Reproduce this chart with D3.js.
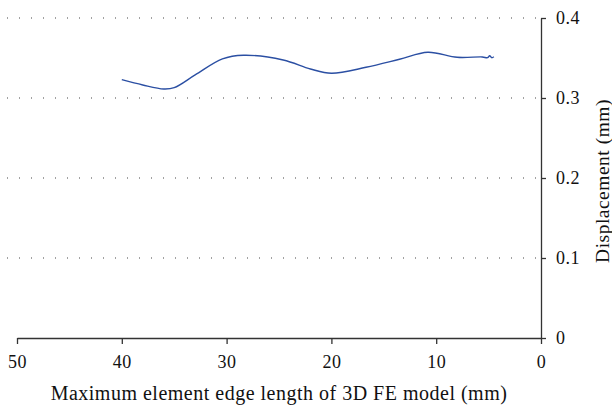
<!DOCTYPE html>
<html>
<head>
<meta charset="utf-8">
<script src="https://cdn.jsdelivr.net/npm/d3@7"></script>
<style>
  body { margin: 0; background: #fff; }
</style>
</head>
<body>
<div id="chart"></div>
<script>
// edge length (mm) and displacement (mm)
var edgeLength = [40, 38, 36, 35, 33, 30.4, 28.4, 24.6, 22, 20, 16.7, 13.5, 10.8, 8, 5.6, 5.1, 4.9, 4.7, 4.5];
var displacement = [0.3229, 0.3163, 0.3113, 0.3129, 0.3288, 0.3488, 0.3534, 0.3475, 0.3363, 0.3309, 0.3384, 0.3484, 0.3571, 0.3509, 0.3513, 0.3504, 0.3529, 0.3504, 0.3516];
var xTicks = [50, 40, 30, 20, 10, 0];
var yTicks = [0, 0.1, 0.2, 0.3, 0.4];

var W = 612, H = 406;
var plotLeft = 17, plotRight = 541, plotTop = 18, plotBottom = 338;
var serif = "Liberation Serif, DejaVu Serif, Times New Roman, serif";

var svg = d3.select("#chart")
  .append("svg")
  .attr("width", W)
  .attr("height", H)
  .attr("font-family", serif);

var x = d3.scaleLinear().domain([50, 0]).range([plotLeft, plotRight]);
var y = d3.scaleLinear().domain([0, 0.4]).range([plotBottom, plotTop]);

// dotted gridlines
svg.append("g")
  .selectAll("line")
  .data(yTicks.filter(function (d) { return d > 0; }))
  .join("line")
  .attr("x1", 7)
  .attr("x2", plotRight)
  .attr("y1", function (d) { return y(d); })
  .attr("y2", function (d) { return y(d); })
  .attr("stroke", "#444")
  .attr("stroke-width", 1)
  .attr("stroke-dasharray", "1,11");

// x axis
var xAxis = svg.append("g")
  .attr("transform", "translate(0," + plotBottom + ")")
  .call(d3.axisBottom(x).tickValues(xTicks).tickFormat(d3.format("d")).tickSize(6).tickSizeOuter(0).tickPadding(11));
xAxis.attr("font-family", serif);
xAxis.select(".domain").attr("stroke", "#333").attr("stroke-width", 1.3);
xAxis.selectAll(".tick line").attr("stroke", "#333").attr("stroke-width", 1.3);
xAxis.selectAll("text").attr("font-size", 18).attr("letter-spacing", 0.5).attr("fill", "#111");

// y axis
var yAxis = svg.append("g")
  .attr("transform", "translate(" + plotRight + ",0)")
  .call(d3.axisRight(y).tickValues(yTicks).tickFormat(function (d) { return d === 0 ? "0" : d3.format(".1f")(d); }).tickSize(5).tickSizeOuter(0).tickPadding(10));
yAxis.attr("font-family", serif);
yAxis.select(".domain").attr("stroke", "#333").attr("stroke-width", 1.3);
yAxis.selectAll(".tick line").attr("stroke", "#333").attr("stroke-width", 1.3);
yAxis.selectAll("text").attr("font-size", 18).attr("letter-spacing", 0.5).attr("fill", "#111");

// axis titles
svg.append("text")
  .attr("x", (plotLeft + plotRight) / 2)
  .attr("y", 399.5)
  .attr("text-anchor", "middle")
  .attr("font-size", 20)
  .attr("letter-spacing", 0.5)
  .attr("fill", "#111")
  .text("Maximum element edge length of 3D FE model (mm)");

svg.append("text")
  .attr("transform", "translate(609,181) rotate(-90)")
  .attr("text-anchor", "middle")
  .attr("font-size", 19.5)
  .attr("letter-spacing", 0.5)
  .attr("fill", "#111")
  .text("Displacement (mm)");

// curve
var pts = edgeLength.map(function (d, i) { return [d, displacement[i]]; });
var line = d3.line()
  .x(function (d) { return x(d[0]); })
  .y(function (d) { return y(d[1]); })
  .curve(d3.curveCatmullRom.alpha(0.5));

svg.append("path")
  .datum(pts)
  .attr("fill", "none")
  .attr("stroke", "#2b4fa3")
  .attr("stroke-width", 1.4)
  .attr("d", line);
</script>
</body>
</html>
